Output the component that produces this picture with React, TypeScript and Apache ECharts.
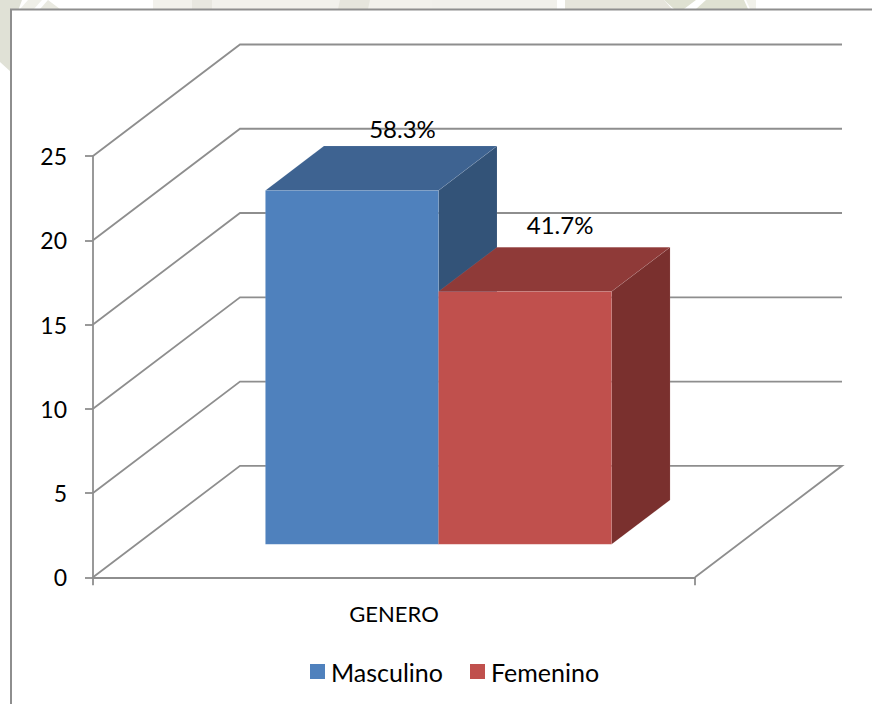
import React, { useEffect, useRef } from "react";
import * as echarts from "echarts";

const categories = ["GENERO"];
const seriesNames = ["Masculino", "Femenino"];
const seriesValues = [21, 15];
const percentLabels = ["58.3%", "41.7%"];
const tickValues = [0, 5, 10, 15, 20, 25];

const FRONT = ["#4F81BD", "#C0504D"];
const TOP = ["#3E6391", "#8F3A38"];
const SIDE = ["#335378", "#7A302E"];
const LINE = "#8E8E8E";
const FONT = "Lato, 'Open Sans', sans-serif";

// Oblique projection of the chart box, in pixels.
const BOX_DX = 147;
const BOX_DY = -111.5;
const BAR_START_DX = 44.5;
const BAR_START_DY = -33;
const BAR_DX = 58.5;
const BAR_DY = -44.3;
const BAR_BAND_RATIO = 0.2875;
const LABEL_SHIFT = [
  { x: 50.5, y: -62 },
  { x: 35, y: -67 },
];

function wallItem(_params: any, api: any) {
  const value = api.value(1);
  const [x, y] = api.coord([0, value]);
  const band = api.size([1, 0])[0];
  const left = x - band / 2;
  const right = x + band / 2;
  const back = { x: left + BOX_DX, y: y + BOX_DY };
  const style = { stroke: LINE, lineWidth: 1.8, fill: "none" };
  const points =
    value === 0
      ? [
          [left, y],
          [back.x, back.y],
          [right + BOX_DX, back.y],
          [right, y],
        ]
      : [
          [left, y],
          [back.x, back.y],
          [right + BOX_DX, back.y],
        ];
  return { type: "polyline", shape: { points }, style };
}

function barItem(index: number) {
  return (_params: any, api: any) => {
    const [cx, topY] = api.coord([api.value(0), api.value(1)]);
    const [, baseY] = api.coord([api.value(0), 0]);
    const width = api.size([1, 0])[0] * BAR_BAND_RATIO;
    const x0 = cx + BAR_START_DX + (index === 0 ? -width : 0);
    const x1 = x0 + width;
    const yTop = topY + BAR_START_DY;
    const yBase = baseY + BAR_START_DY;
    const edge = { stroke: "rgba(255,255,255,0.1)", lineWidth: 0.8 };
    return {
      type: "group",
      children: [
        {
          type: "polygon",
          shape: {
            points: [
              [x1, yTop],
              [x1 + BAR_DX, yTop + BAR_DY],
              [x1 + BAR_DX, yBase + BAR_DY],
              [x1, yBase],
            ],
          },
          style: { fill: SIDE[index], ...edge },
        },
        {
          type: "polygon",
          shape: {
            points: [
              [x0, yTop],
              [x0 + BAR_DX, yTop + BAR_DY],
              [x1 + BAR_DX, yTop + BAR_DY],
              [x1, yTop],
            ],
          },
          style: { fill: TOP[index], ...edge },
        },
        {
          type: "rect",
          shape: { x: x0, y: yTop, width, height: yBase - yTop },
          style: { fill: FRONT[index], ...edge },
        },
        {
          type: "text",
          x: (x0 + x1) / 2 + LABEL_SHIFT[index].x,
          y: yTop + LABEL_SHIFT[index].y,
          style: {
            text: percentLabels[index],
            fill: "#000",
            font: `24px ${FONT}`,
            align: "center",
            verticalAlign: "middle",
          },
        },
      ],
    };
  };
}

// Pale decoration showing around the chart's frame.
const backdropShapes: { points: number[][]; fill: string }[] = [
  { points: [[0, 0], [22, 0], [11, 30], [11, 72], [0, 62]], fill: "#E0E1D6" },
  { points: [[28, 0], [42, 0], [34, 9], [20, 9]], fill: "#EFEFE8" },
  { points: [[40, 9], [48, 0], [60, 9]], fill: "#E9E9E0" },
  { points: [[153, 0], [432, 0], [432, 9], [153, 9]], fill: "#F2F1EC" },
  { points: [[192, 0], [212, 0], [212, 9], [192, 9]], fill: "#E8E7E0" },
  { points: [[340, 0], [370, 0], [368, 9], [338, 9]], fill: "#E6E5DD" },
  { points: [[432, 0], [557, 0], [557, 9], [432, 9]], fill: "#F1F0EB" },
  { points: [[565, 0], [664, 0], [672, 9], [565, 9]], fill: "#E6E5DC" },
  { points: [[664, 0], [696, 0], [684, 9], [674, 9]], fill: "#DFE1D2" },
  { points: [[706, 0], [744, 0], [748, 9], [705, 9], [696, 9]], fill: "#DFE1D2" },
  { points: [[746, 0], [756, 0], [756, 9], [750, 9]], fill: "#F1F1EA" },
];

export default function App() {
  const ref = useRef<HTMLDivElement | null>(null);

  useEffect(() => {
    if (!ref.current) return;
    const chart = echarts.init(ref.current, undefined, { renderer: "svg" });
    chart.setOption({
      animation: false,
      backgroundColor: "#FFFFFF",
      textStyle: { fontFamily: FONT },
      graphic: {
        elements: [
          ...backdropShapes.map((s) => ({
            type: "polygon",
            silent: true,
            z: 0,
            shape: { points: s.points },
            style: { fill: s.fill },
          })),
          {
            type: "rect",
            silent: true,
            z: 0,
            shape: { x: 11, y: 9.5, width: 880, height: 720 },
            style: { fill: "#FFFFFF", stroke: LINE, lineWidth: 2 },
          },
        ],
      },
      grid: { left: 93, right: 177, top: 156, bottom: 126.7 },
      legend: {
        data: seriesNames,
        left: 305,
        top: 654,
        icon: "rect",
        itemWidth: 15,
        itemHeight: 15,
        itemGap: 27,
        textStyle: { color: "#000", fontSize: 25, fontFamily: FONT, padding: [0, 0, 0, 1] },
      },
      xAxis: {
        type: "category",
        data: categories,
        axisLine: { show: true, lineStyle: { color: LINE, width: 1.8 } },
        axisTick: { show: true, length: 8, lineStyle: { color: LINE, width: 1.8 } },
        axisLabel: { color: "#000", fontSize: 22, margin: 25, fontFamily: FONT },
      },
      yAxis: {
        type: "value",
        min: 0,
        max: 25,
        interval: 5,
        splitLine: { show: false },
        axisLine: { show: true, lineStyle: { color: LINE, width: 1.8 } },
        axisTick: { show: true, length: 8, lineStyle: { color: LINE, width: 1.8 } },
        axisLabel: { color: "#000", fontSize: 23, margin: 26, fontFamily: FONT, padding: [2, 0, 0, 0] },
      },
      series: [
        {
          type: "custom",
          name: "walls",
          z: 1,
          silent: true,
          encode: { x: 0, y: 1 },
          renderItem: wallItem,
          data: tickValues.map((v) => [0, v]),
          clip: false,
        },
        ...seriesNames.map((name, i) => ({
          type: "custom",
          name,
          z: 3,
          itemStyle: { color: FRONT[i] },
          encode: { x: 0, y: 1 },
          renderItem: barItem(i),
          data: [[0, seriesValues[i]]],
          clip: false,
        })),
      ],
    });
    return () => chart.dispose();
  }, []);

  return (
    <div
      ref={ref}
      style={{ position: "fixed", left: 0, top: 0, width: 872, height: 704 }}
    />
  );
}
